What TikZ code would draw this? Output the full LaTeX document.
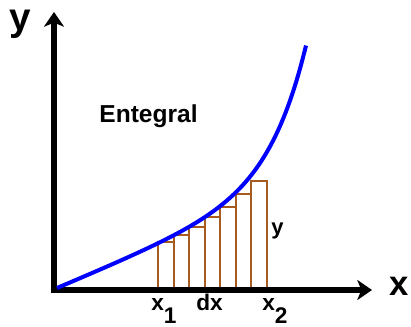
\documentclass[tikz,border=0pt]{standalone}
\usepackage{fontspec}
\setmainfont{Liberation Sans}
\usetikzlibrary{arrows.meta}
\definecolor{barbrown}{RGB}{166,92,32}
\definecolor{curveblue}{RGB}{0,0,255}

\begin{document}
\begin{tikzpicture}[x=0.75pt, y=0.75pt,
    axis/.style={line width=4pt, line join=miter,
      {Stealth[length=11pt,width=15pt,inset=3pt]}-{Stealth[length=11pt,width=15pt,inset=3pt]}},
    curve/.style={curveblue, line width=3pt},
    bar/.style={draw=barbrown, line width=1.5pt},
    lbl/.style={inner sep=0pt, font=\bfseries\fontsize{#1}{#1}\selectfont}]
    \useasboundingbox (-54,-36) rectangle (357,290);
    
    % Strips under the curve
    \foreach \i/\h in {0/48, 1/55, 2/63, 3/73, 4/83, 5/96, 6/109} {
        \draw[bar] ({104+15.57*\i},0) rectangle ({104+15.57*(\i+1)},\h);
    }
    
    % Axes
    \coordinate (O) at (0,0);
    \coordinate (ytop) at (0,278);
    \coordinate (xend) at (318,0);
    \draw[axis] (ytop) -- (O) -- (xend);
    
    % The curve
    \draw[curve] plot[domain=0:249, samples=80] ({3+\x},{2+0.42*\x+0.165*(exp(\x/37)-1)});
    
    % Labels
    \node[lbl=29pt, anchor=base] (ylab) at (-34,259) {y};
    \node[lbl=26pt, anchor=base] (xlab) at (345.5,-5) {x};
    \node[lbl=18.4pt, anchor=base] (title) at (94.5,168) {Entegral};
    \node[lbl=16.5pt, anchor=base] (ybar) at (223.5,55.5) {y};
    \node[lbl=17pt, anchor=base west] (xone) at (97,-20) {x\raisebox{-0.58em}{1}};
    \node[lbl=17pt, anchor=base west] (dx) at (142,-20) {dx};
    \node[lbl=17pt, anchor=base west] (xtwo) at (208,-20) {x\raisebox{-0.58em}{2}};
\end{tikzpicture}
\end{document}
